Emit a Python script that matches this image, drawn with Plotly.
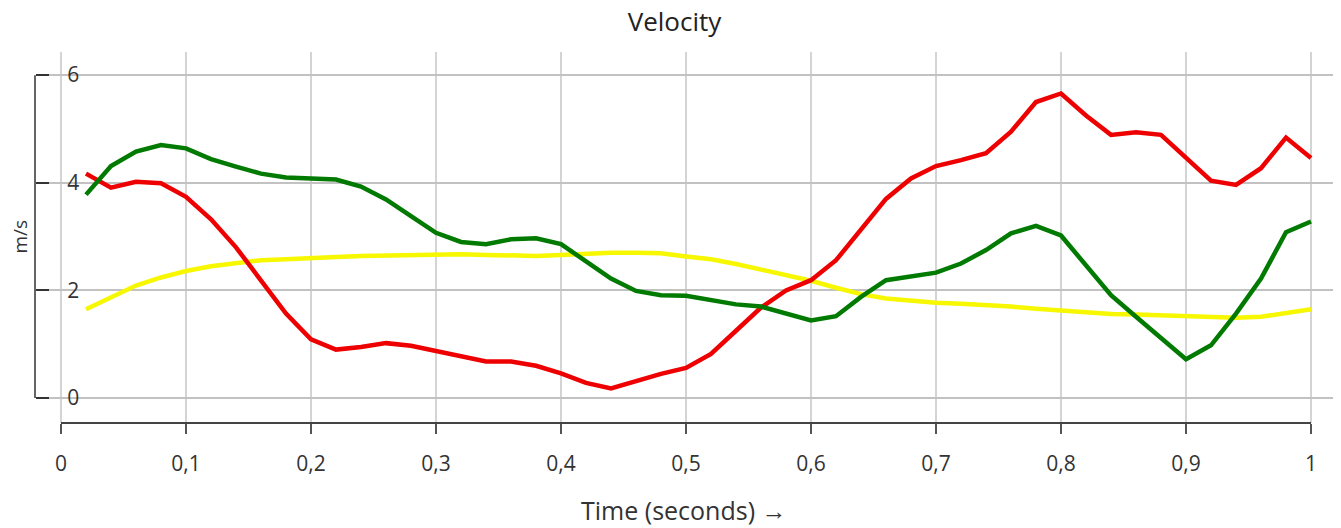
import plotly.graph_objects as go

# ---- data ----
time_s = [0.02, 0.04, 0.06, 0.08, 0.10, 0.12, 0.14, 0.16, 0.18, 0.20,
          0.22, 0.24, 0.26, 0.28, 0.30, 0.32, 0.34, 0.36, 0.38, 0.40,
          0.42, 0.44, 0.46, 0.48, 0.50, 0.52, 0.54, 0.56, 0.58, 0.60,
          0.62, 0.64, 0.66, 0.68, 0.70, 0.72, 0.74, 0.76, 0.78, 0.80,
          0.82, 0.84, 0.86, 0.88, 0.90, 0.92, 0.94, 0.96, 0.98, 1.00]

red_series = [4.17, 3.91, 4.02, 3.99, 3.74, 3.32, 2.80, 2.20, 1.57, 1.09,
              0.90, 0.95, 1.02, 0.97, 0.88, 0.77, 0.68, 0.68, 0.60, 0.46,
              0.28, 0.18, 0.32, 0.45, 0.56, 0.82, 1.25, 1.68, 2.00, 2.19,
              2.56, 3.12, 3.70, 4.08, 4.31, 4.42, 4.55, 4.95, 5.50, 5.66,
              5.25, 4.89, 4.94, 4.89, 4.47, 4.04, 3.96, 4.27, 4.84, 4.46]

green_series = [3.78, 4.31, 4.58, 4.70, 4.64, 4.44, 4.30, 4.17, 4.10, 4.07,
                4.06, 3.93, 3.69, 3.38, 3.07, 2.90, 2.86, 2.95, 2.97, 2.86,
                2.53, 2.22, 1.99, 1.91, 1.90, 1.82, 1.74, 1.70, 1.57, 1.44,
                1.52, 1.88, 2.19, 2.27, 2.33, 2.50, 2.75, 3.06, 3.20, 3.02,
                2.47, 1.91, 1.51, 1.11, 0.72, 0.98, 1.57, 2.22, 3.08, 3.28]

yellow_series = [1.65, 1.88, 2.09, 2.24, 2.36, 2.45, 2.51, 2.56, 2.58, 2.61,
                 2.62, 2.64, 2.65, 2.66, 2.66, 2.67, 2.66, 2.64, 2.64, 2.66,
                 2.69, 2.70, 2.70, 2.69, 2.63, 2.58, 2.49, 2.39, 2.28, 2.18,
                 2.05, 1.93, 1.85, 1.80, 1.77, 1.75, 1.73, 1.70, 1.66, 1.62,
                 1.59, 1.56, 1.55, 1.54, 1.53, 1.51, 1.49, 1.51, 1.57, 1.65]

x_ticks = [0, 0.1, 0.2, 0.3, 0.4, 0.5, 0.6, 0.7, 0.8, 0.9, 1]
y_ticks = [0, 2, 4, 6]

title_text = "Velocity"
x_title = "Time (seconds) →"
y_title = "m/s"

# ---- layout geometry (page body adds an 8px margin) ----
W, H = 1333, 520
ML, MR, MT, MB = 27, 8, 44, 105
plot_w = W - ML - MR
plot_h = H - MT - MB
x_dom = [13 / plot_w, 1]
x_range = [-0.0104, 1.0176]
y_range = [-0.464, 6.43]

FONT = "Segoe UI, Open Sans, Noto Sans, sans-serif"


def x_to_paper(v):
    frac = (v - x_range[0]) / (x_range[1] - x_range[0])
    return x_dom[0] + frac * (x_dom[1] - x_dom[0])


fig = go.Figure()
for name, vals, col in [("yellow", yellow_series, "#f7f700"),
                        ("red", red_series, "#ee0000"),
                        ("green", green_series, "#007a00")]:
    fig.add_trace(go.Scatter(x=time_s, y=vals, mode="lines", name=name,
                             line=dict(color=col, width=4.5)))

fig.update_layout(
    width=W, height=H,
    margin=dict(l=ML, r=MR, t=MT, b=MB, autoexpand=False),
    paper_bgcolor="white", plot_bgcolor="white",
    showlegend=False,
    separators=", ",
    font=dict(family=FONT, size=21, color="#333"),
    title=dict(text=title_text, x=0.5, xref="container", xanchor="center",
               y=1 - 14 / H, yref="container", yanchor="middle",
               font=dict(family=FONT, size=26, color="#222")),
    xaxis=dict(domain=x_dom, range=x_range, tickvals=x_ticks,
               automargin=False,
               showgrid=True, gridcolor="#d4d4d4", gridwidth=2,
               zeroline=False, showline=False,
               ticks="outside", ticklen=10, tickwidth=2, tickcolor="#555",
               ticklabelstandoff=12,
               tickfont=dict(family=FONT, size=21, color="#333")),
    yaxis=dict(anchor="free", position=0, side="right",
               range=y_range, tickvals=y_ticks,
               automargin=False,
               showgrid=True, gridcolor="#c2c2c2", gridwidth=1.5,
               zeroline=False, showline=False,
               ticks="outside", ticklen=13, tickwidth=1.5, tickcolor="#333",
               ticklabelstandoff=14,
               tickfont=dict(family=FONT, size=21, color="#333")),
    shapes=[
        dict(type="line", xref="paper", yref="paper",
             x0=x_to_paper(0), x1=x_to_paper(1), y0=0, y1=0,
             line=dict(color="#444", width=2), layer="above"),
        dict(type="line", xref="paper", yref="y",
             x0=0, x1=0, y0=0, y1=6,
             line=dict(color="#333", width=1.5), layer="above"),
    ],
    annotations=[
        dict(text=x_title, xref="paper", yref="paper",
             x=0.5, y=-87 / plot_h, xanchor="center", yanchor="middle",
             showarrow=False, font=dict(family=FONT, size=25, color="#333")),
        dict(text=y_title, xref="paper", yref="y",
             x=(12 - ML) / plot_w, y=3, textangle=-90,
             xanchor="center", yanchor="middle",
             showarrow=False, font=dict(family=FONT, size=19, color="#333")),
    ],
)

fig.write_html("out.html")
